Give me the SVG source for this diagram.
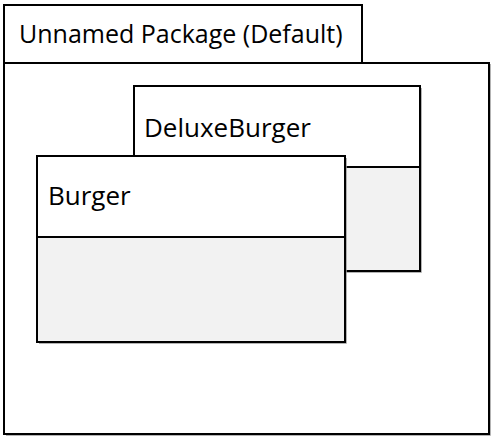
<svg xmlns="http://www.w3.org/2000/svg" width="495" height="440" viewBox="0 0 495 440">
<defs>
<style>
.box{fill:#ffffff;stroke:#000000;stroke-width:2}
.comp{fill:#f2f2f2;stroke:#000000;stroke-width:2}
.shadow{fill:none;stroke:#9a9a9a;stroke-width:1.5}
text{font-family:"Open Sans","Noto Sans","DejaVu Sans",sans-serif;fill:#000000}
.pkg{font-size:25px}
.cls{font-size:26px}
</style>
</defs>
<rect width="495" height="440" fill="#ffffff"/>
<g id="package">
<polyline class="shadow" points="6,435 490,435 490,64"/>
<rect class="box" x="4" y="5" width="358" height="58"/>
<rect class="box" x="4" y="63" width="485" height="371"/>
<text class="pkg" x="19" y="43">Unnamed Package (Default)</text>
</g>
<g id="DeluxeBurger">
<polyline class="shadow" points="135,272 421,272 421,88"/>
<rect class="box" x="134" y="86" width="286" height="81"/>
<rect class="comp" x="134" y="167" width="286" height="104"/>
<text class="cls" x="144" y="137">DeluxeBurger</text>
</g>
<g id="Burger">
<polyline class="shadow" points="39,343 346,343 346,158"/>
<rect class="box" x="37" y="156" width="308" height="81"/>
<rect class="comp" x="37" y="237" width="308" height="105"/>
<text class="cls" x="48" y="205">Burger</text>
</g>
<g id="connectors"/>
</svg>
